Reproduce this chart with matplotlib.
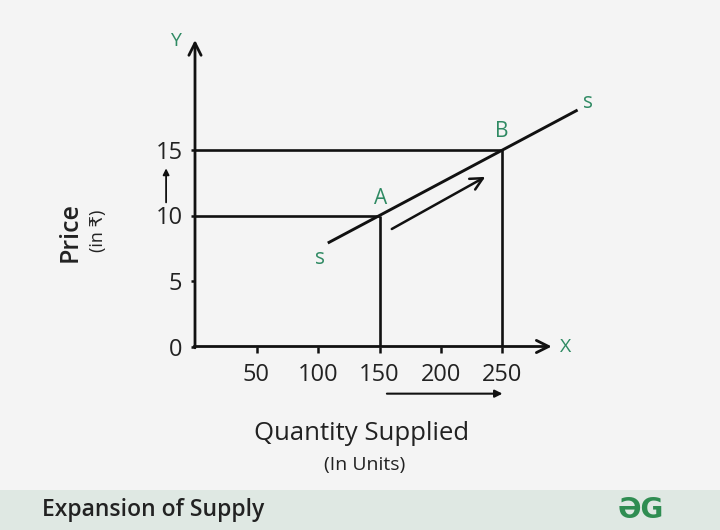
import matplotlib.pyplot as plt
from matplotlib.patches import Rectangle

# supply curve points and labels
pointNames = ["A", "B"]
qtyVals = [150, 250]
priceVals = [10, 15]
supplyQty = [109, 310]
supplyPrice = [7.95, 18.0]

xTicks = [50, 100, 150, 200, 250]
yTicks = [0, 5, 10, 15]

lineCol = "#111111"
green = "#2f8a63"
textCol = "#222222"

fig = plt.figure(figsize=(7.2, 5.3), dpi=100)
fig.patch.set_facecolor("#f4f4f4")
ax = fig.add_axes([195 / 720, 183.5 / 530, 369 / 720, 327.5 / 530])
ax.set_facecolor("none")
ax.set_xlim(0, 300)
ax.set_ylim(0, 25)
for sp in ax.spines.values():
    sp.set_visible(False)

# axes with open arrow heads
ax.annotate("", xy=(0, 23.4), xytext=(0, -0.1),
            arrowprops=dict(arrowstyle="->", lw=2, color=lineCol, mutation_scale=22,
                            shrinkA=0, shrinkB=0), annotation_clip=False)
ax.annotate("", xy=(290, 0), xytext=(-0.8, 0),
            arrowprops=dict(arrowstyle="->", lw=2, color=lineCol, mutation_scale=22,
                            shrinkA=0, shrinkB=0), annotation_clip=False)
ax.text(-16, 23.3, "Y", color=green, fontsize=14, fontweight="medium", ha="center", va="center", family="Open Sans")
ax.text(301, 0, "X", color=green, fontsize=14, fontweight="medium", ha="center", va="center", family="Open Sans")

# guide lines
for q, p in zip(qtyVals, priceVals):
    ax.plot([0, q], [p, p], color=lineCol, lw=1.9, solid_capstyle="butt")
    ax.plot([q, q], [0, p], color=lineCol, lw=1.9, solid_capstyle="butt")

# supply line
ax.plot(supplyQty, supplyPrice, color=lineCol, lw=2.1, clip_on=False)
lblKw = dict(color=green, fontsize=15, fontweight="medium", ha="center", va="center", family="Open Sans")
ax.text(101.5, 6.75, "s", **lblKw)
ax.text(319.5, 18.6, "s", **lblKw)
ax.text(151, 11.3, pointNames[0], **lblKw)
ax.text(249, 16.45, pointNames[1], **lblKw)

# movement along the curve
ax.annotate("", xy=(236, 12.95), xytext=(160, 8.97),
            arrowprops=dict(arrowstyle="->", lw=1.8, color=lineCol, mutation_scale=22,
                            shrinkA=0, shrinkB=0))
ax.annotate("", xy=(-23.5, 13.6), xytext=(-23.5, 11.0),
            arrowprops=dict(arrowstyle="-|>", lw=1.3, color=lineCol, mutation_scale=9,
                            shrinkA=0, shrinkB=0), annotation_clip=False)
ax.annotate("", xy=(250, -3.6), xytext=(156, -3.6),
            arrowprops=dict(arrowstyle="-|>", lw=1.5, color=lineCol, mutation_scale=11,
                            shrinkA=0, shrinkB=0), annotation_clip=False)

ax.set_xticks(xTicks)
ax.set_yticks(yTicks)
ax.tick_params(axis="x", length=4, width=1.8, color=lineCol, pad=8, labelsize=17, labelcolor=textCol)
ax.tick_params(axis="y", length=3, width=1.8, color=lineCol, pad=6, labelsize=17, labelcolor=textCol)
for lab in ax.get_xticklabels() + ax.get_yticklabels():
    lab.set_family("Open Sans")
    lab.set_fontweight("medium")

fig.text(70 / 720, 1 - 232 / 530, "Price", rotation=90, fontsize=18, fontweight="semibold",
         ha="center", va="center", color=textCol, family="Open Sans")
fig.text(98 / 720, 1 - 231 / 530, "(in \u20b9)", rotation=90, fontsize=13,
         ha="center", va="center", color=textCol, family=["Open Sans", "DejaVu Sans"])
fig.text(362 / 720, 1 - 434 / 530, "Quantity Supplied", fontsize=18.5, fontweight="medium",
         ha="center", va="center", color=textCol, family="Open Sans")
fig.text(365 / 720, 1 - 465 / 530, "(In Units)", fontsize=14,
         ha="center", va="center", color=textCol, family="Open Sans")

# bottom banner
fig.add_artist(Rectangle((0, 0), 1, 40 / 530, transform=fig.transFigure,
                         facecolor="#dfe8e3", edgecolor="none"))
fig.text(42 / 720, 1 - 510 / 530, "Expansion of Supply", fontsize=16.5, fontweight="semibold",
         ha="left", va="center", color=textCol, family="Open Sans")
fig.text(641 / 720, 1 - 510 / 530, "\u018fG", fontsize=20, fontweight="bold",
         ha="center", va="center", color="#2f8d52", family="DejaVu Sans")

fig.savefig("out.png", dpi=100, facecolor=fig.get_facecolor())
